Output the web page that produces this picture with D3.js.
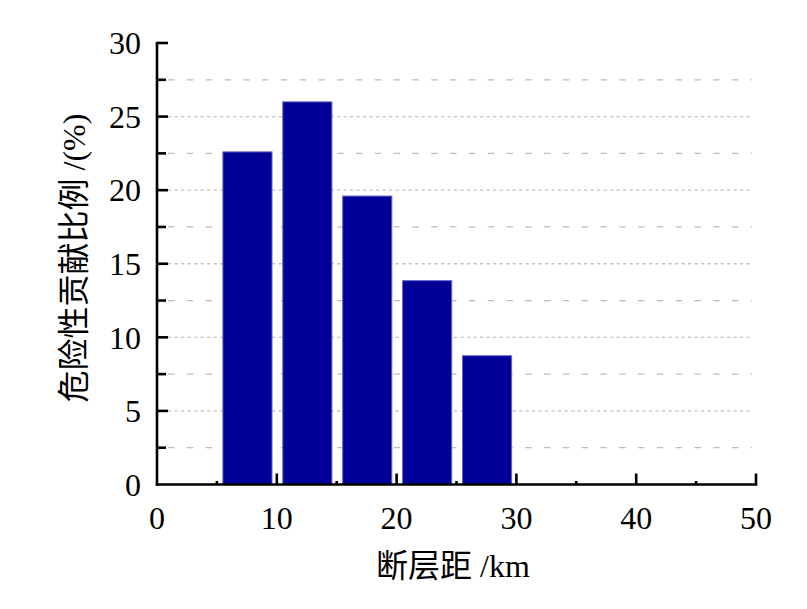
<!DOCTYPE html>
<html>
<head>
<meta charset="utf-8">
<script src="https://cdn.jsdelivr.net/npm/d3@7/dist/d3.min.js"></script>
<style>
  html, body { margin: 0; padding: 0; background: #fff; }
  svg { display: block; }
  text { font-family: "Liberation Serif", "Noto Sans CJK SC", serif; fill: #000; }
</style>
</head>
<body>
<script>
// ---- data ----
const binStarts = [5, 10, 15, 20, 25];
const binEnds = [10, 15, 20, 25, 30];
const contributions = [22.6, 26.0, 19.6, 13.85, 8.75];
const xMajorTicks = [0, 10, 20, 30, 40, 50];
const xMinorTicks = [5, 15, 25, 35, 45];
const yMajorTicks = [0, 5, 10, 15, 20, 25, 30];
const yMinorTicks = [2.5, 7.5, 12.5, 17.5, 22.5, 27.5];
const xTitle = "断层距 /km";
const yTitle = "危险性贡献比例 /(%)";

const W = 807, H = 609;
const svg = d3.select("body").append("svg").attr("width", W).attr("height", H);

const x = d3.scaleLinear().domain([0, 50]).range([157, 756]);
const y = d3.scaleLinear().domain([0, 30]).range([484.5, 43]);

// gridlines
const grid = svg.append("g");
grid.selectAll("line.minor").data(yMinorTicks).join("line")
  .attr("x1", 168).attr("x2", 752)
  .attr("y1", d => y(d)).attr("y2", d => y(d))
  .attr("stroke", "#bdbdbd").attr("stroke-width", 1.3)
  .attr("stroke-dasharray", "6.5,12.3");
grid.selectAll("line.major").data(yMajorTicks.filter(d => d > 0 && d < 30)).join("line")
  .attr("x1", 168).attr("x2", 753)
  .attr("y1", d => y(d)).attr("y2", d => y(d))
  .attr("stroke", "#c4c4c4").attr("stroke-width", 1.3)
  .attr("stroke-dasharray", "3.3,3.2");

// bars
const bars = binStarts.map((s, i) => ({ s, e: binEnds[i], v: contributions[i] }));
svg.append("g").selectAll("rect").data(bars).join("rect")
  .attr("x", d => x(d.s + 0.5))
  .attr("width", d => x(d.e - 0.4) - x(d.s + 0.5))
  .attr("y", d => y(d.v))
  .attr("height", d => y(0) - y(d.v))
  .attr("fill", "#000099")
  .attr("stroke", "#6262c4")
  .attr("stroke-width", 1);

// axes
const axisColor = "#000";
const ax = svg.append("g");
ax.append("line").attr("x1", x(0)).attr("x2", x(0)).attr("y1", y(0) + 1.2).attr("y2", y(30) - 1.2)
  .attr("stroke", axisColor).attr("stroke-width", 2.6);
ax.append("line").attr("x1", x(0) - 1.2).attr("x2", x(50) + 1.2).attr("y1", y(0)).attr("y2", y(0))
  .attr("stroke", axisColor).attr("stroke-width", 2.6);

ax.selectAll("line.ymaj").data(yMajorTicks.filter(d => d > 0)).join("line")
  .attr("x1", x(0)).attr("x2", x(0) + 11)
  .attr("y1", d => y(d)).attr("y2", d => y(d))
  .attr("stroke", axisColor).attr("stroke-width", 2.6);
ax.selectAll("line.ymin").data(yMinorTicks).join("line")
  .attr("x1", x(0)).attr("x2", x(0) + 9)
  .attr("y1", d => y(d)).attr("y2", d => y(d))
  .attr("stroke", axisColor).attr("stroke-width", 2.6);

ax.selectAll("line.xmaj").data(xMajorTicks.filter(d => d > 0)).join("line")
  .attr("x1", d => x(d)).attr("x2", d => x(d))
  .attr("y1", y(0)).attr("y2", y(0) - 11)
  .attr("stroke", axisColor).attr("stroke-width", 2.6);
ax.selectAll("line.xmin").data(xMinorTicks).join("line")
  .attr("x1", d => x(d)).attr("x2", d => x(d))
  .attr("y1", y(0)).attr("y2", y(0) - 3.5)
  .attr("stroke", axisColor).attr("stroke-width", 2.6);

// tick labels
svg.append("g").selectAll("text").data(yMajorTicks).join("text")
  .attr("x", 141).attr("y", d => y(d))
  .attr("dy", "0.35em")
  .attr("text-anchor", "end")
  .attr("font-size", 32)
  .text(d => d);
svg.append("g").selectAll("text").data(xMajorTicks).join("text")
  .attr("x", d => x(d)).attr("y", 529)
  .attr("text-anchor", "middle")
  .attr("font-size", 32)
  .text(d => d);

// titles
svg.append("text")
  .attr("x", 453).attr("y", 577)
  .attr("text-anchor", "middle")
  .attr("font-size", 32)
  .text(xTitle);
svg.append("text")
  .attr("transform", "translate(85,258) rotate(-90)")
  .attr("text-anchor", "middle")
  .attr("font-size", 32)
  .text(yTitle);
</script>
</body>
</html>
